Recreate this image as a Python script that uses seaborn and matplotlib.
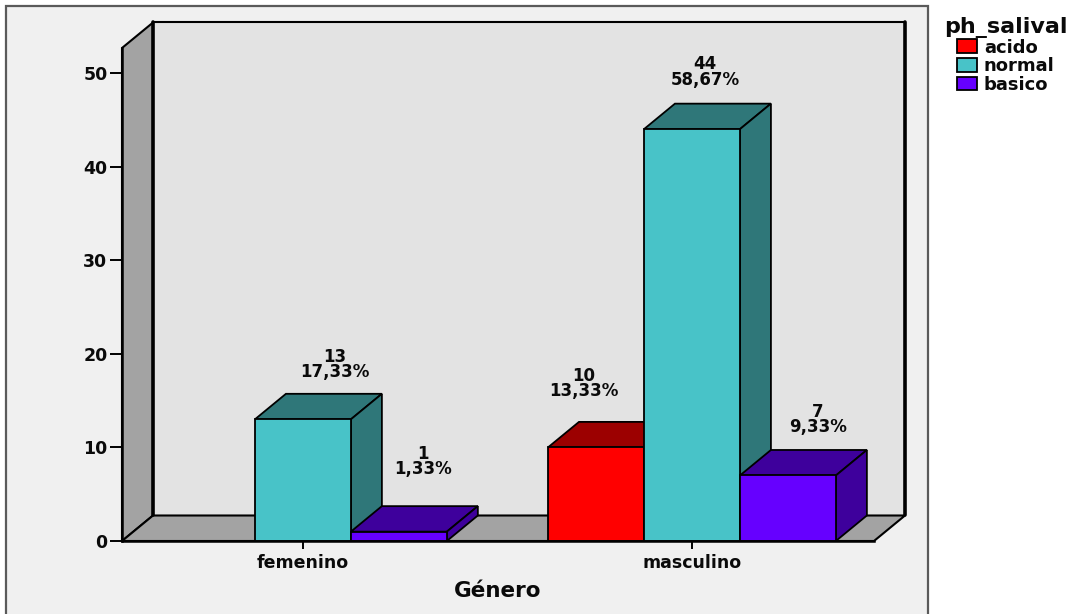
import matplotlib
matplotlib.use("Agg")
import matplotlib.pyplot as plt
from matplotlib.patches import Polygon, Rectangle
import pandas as pd
import seaborn as sns

# Counts of salivary pH by gender
generos = ["femenino", "masculino"]
ph_niveles = ["acido", "normal", "basico"]
conteo_acido = [0, 10]
conteo_normal = [13, 44]
conteo_basico = [1, 7]
pct_acido = ["", "13,33%"]
pct_normal = ["17,33%", "58,67%"]
pct_basico = ["1,33%", "9,33%"]
y_ticks = [0, 10, 20, 30, 40, 50]

# Front colour, darker shade for top and side faces
frente = {"acido": "#ff0000", "normal": "#48c3c8", "basico": "#6600ff"}
sombra = {"acido": "#9c0000", "normal": "#2f7779", "basico": "#3e009c"}
# Label offsets from the front top-centre of each bar, in pixels
desplazamiento = {
    ("femenino", "normal"): (32, 55),
    ("femenino", "basico"): (24, 70),
    ("masculino", "acido"): (-12, 64),
    ("masculino", "normal"): (13, 57),
    ("masculino", "basico"): (30, 56),
}

W, H = 1072, 614
FONT = "DejaVu Sans"
TINTA = "#0a0a0a"
sns.set_theme(style="white", rc={"font.family": FONT, "font.weight": "bold", "text.color": TINTA})

filas = []
for i, g in enumerate(generos):
    for ph, vals, pcts in zip(ph_niveles,
                              [conteo_acido, conteo_normal, conteo_basico],
                              [pct_acido, pct_normal, pct_basico]):
        filas.append({"genero": g, "ph": ph, "n": vals[i], "pct": pcts[i]})
df = pd.DataFrame(filas)

fig = plt.figure(figsize=(W / 100, H / 100), dpi=100, facecolor="white")

# Chart frame behind everything
fig.add_artist(Rectangle((6 / W, -0.02), 922 / W, 1 - 6 / H + 0.02,
                         transform=fig.transFigure, fc="#f0f0f0", ec="#5a5a5a",
                         lw=1.6, zorder=-5))

# The axes span the front plane of the 3D box
ax = fig.add_axes([122 / W, (H - 541) / H, (874 - 122) / W, (541 - 48) / H])
ax.patch.set_alpha(0)

sns.barplot(data=df, x="genero", y="n", hue="ph", order=generos, hue_order=ph_niveles,
            palette=frente, width=0.74, gap=0, saturation=1, edgecolor="black",
            linewidth=1.3, ax=ax, legend=True)

ax.set_xlim(-0.465, 1.468)
ax.set_ylim(0, 52.67)

# Depth of the box in data units
dx = 31 / 389
dy = 25.5 / 9.36
x0, x1 = ax.get_xlim()
y0, y1 = ax.get_ylim()

# Back wall, left wall and floor
ax.add_patch(Polygon([(x0 + dx, y0 + dy), (x1 + dx, y0 + dy), (x1 + dx, y1 + dy), (x0 + dx, y1 + dy)],
                     fc="#e3e3e3", ec="none", clip_on=False, zorder=0.1))
ax.add_patch(Polygon([(x0, y0), (x0 + dx, y0 + dy), (x0 + dx, y1 + dy), (x0, y1)],
                     fc="#a3a3a3", ec="black", lw=1.5, clip_on=False, zorder=0.2))
ax.add_patch(Polygon([(x0, y0), (x0 + dx, y0 + dy), (x1 + dx, y0 + dy), (x1, y0)],
                     fc="#a3a3a3", ec="black", lw=1.5, clip_on=False, zorder=0.2))
ax.plot([x0 + dx, x1 + dx], [y1 + dy, y1 + dy], color="black", lw=1.5, clip_on=False, zorder=0.3)
ax.plot([x0 + dx, x0 + dx], [y0 + dy, y1 + dy], color="black", lw=2.6, clip_on=False, zorder=0.3)
ax.plot([x1 + dx, x1 + dx], [y0 + dy, y1 + dy], color="black", lw=2.6, clip_on=False, zorder=0.3)

# Extrude each bar, painting left to right so nearer faces cover farther ones
barras = []
for ph, cont in zip(ph_niveles, ax.containers):
    for g, b in zip(generos, cont):
        barras.append((b.get_x(), g, ph, b))
barras.sort(key=lambda t: t[0])

orden = 1.0
for _, g, ph, b in barras:
    h = b.get_height()
    if h <= 0:
        b.set_visible(False)
        continue
    xa, xb = b.get_x(), b.get_x() + b.get_width()
    ax.add_patch(Polygon([(xa, h), (xa + dx, h + dy), (xb + dx, h + dy), (xb, h)],
                         fc=sombra[ph], ec="black", lw=1.3, clip_on=False, zorder=orden))
    ax.add_patch(Polygon([(xb, 0), (xb + dx, dy), (xb + dx, h + dy), (xb, h)],
                         fc=sombra[ph], ec="black", lw=1.3, clip_on=False, zorder=orden))
    b.set_zorder(orden + 0.01)
    fila = df[(df.genero == g) & (df.ph == ph)].iloc[0]
    ox, oy = desplazamiento[(g, ph)]
    ax.annotate(f"{int(h)}\n{fila.pct}", xy=((xa + xb) / 2, h),
                xytext=(ox * 0.72, oy * 0.72), textcoords="offset points",
                ha="center", va="center", fontsize=12, fontweight="bold",
                linespacing=0.82, color=TINTA, zorder=20, annotation_clip=False)
    orden += 1

# Axes furniture
sns.despine(ax=ax, top=True, right=True)
for s in ("left", "bottom"):
    ax.spines[s].set_linewidth(1.8)
    ax.spines[s].set_color("black")
    ax.spines[s].set_zorder(15)
ax.set_yticks(y_ticks)
ax.tick_params(axis="y", length=8.5, width=1.4, color="black", pad=2, labelsize=12.5,
               labelcolor=TINTA, left=True)
ax.tick_params(axis="x", length=6, width=1.4, color="black", pad=3, labelsize=12.5,
               labelcolor=TINTA, bottom=True)
for t in ax.get_xticklabels() + ax.get_yticklabels():
    t.set_fontweight("bold")
ax.set_ylabel("")
ax.set_xlabel("Género", fontsize=15.5, fontweight="bold", labelpad=7, color=TINTA)

# Legend sits outside the framed chart
sns.move_legend(ax, loc="upper left", bbox_to_anchor=(944 / W, 1 - 17 / H),
                bbox_transform=fig.transFigure, frameon=False, title="ph_salival",
                title_fontproperties={"weight": "bold", "size": 16},
                fontsize=13, handlelength=1.1, handleheight=0.78, handletextpad=0.4,
                labelspacing=0.03, borderpad=0, borderaxespad=0)
fig.savefig("out.png", dpi=100)
